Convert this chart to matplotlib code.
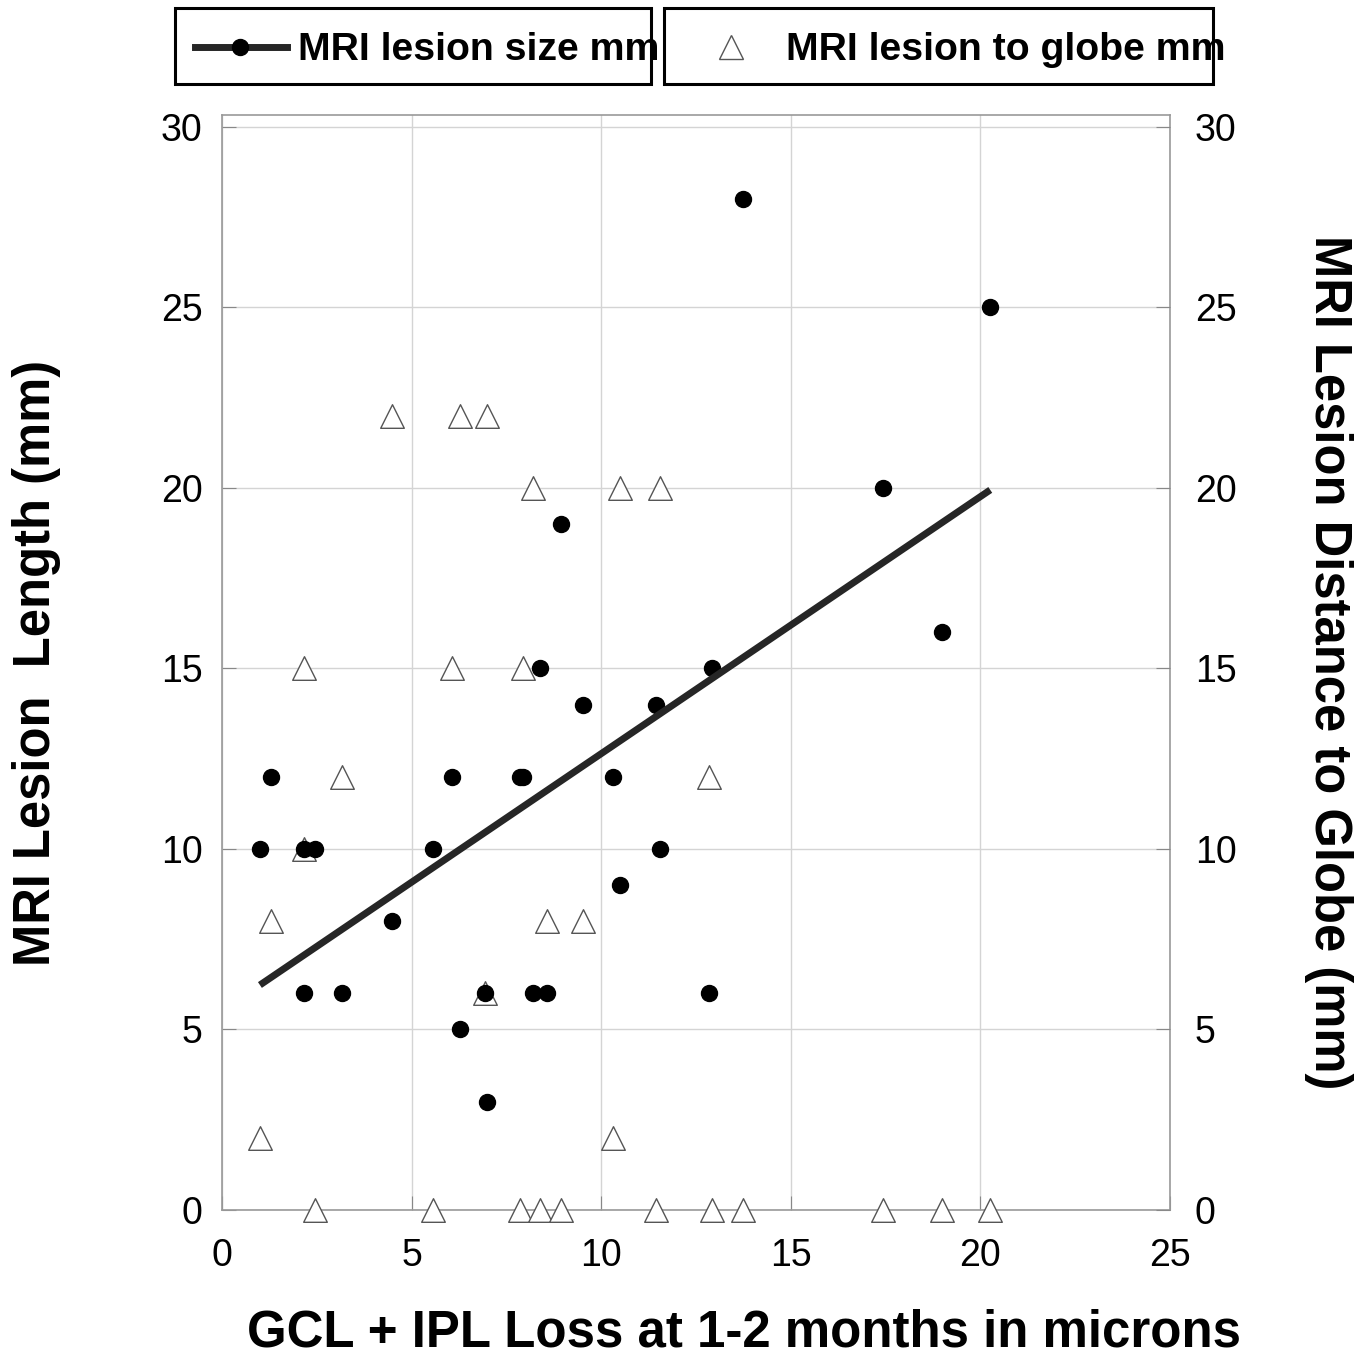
import matplotlib
matplotlib.use("Agg")
import matplotlib.pyplot as plt
import numpy as np
from matplotlib.patches import Rectangle
from matplotlib.lines import Line2D

plt.rcParams['font.family'] = ['Liberation Sans', 'DejaVu Sans']

# Data
gcl_ipl_loss = [1.0, 1.3, 2.16, 2.16, 2.45, 3.17, 4.49, 5.57, 6.07, 6.28, 6.94, 7.0,
                7.86, 7.94, 8.2, 8.39, 8.58, 8.94, 9.53, 10.3, 10.5, 11.45, 11.56,
                12.85, 12.93, 13.75, 17.44, 19.0, 20.26]
lesion_size = [10, 12, 10, 6, 10, 6, 8, 10, 12, 5, 6, 3,
               12, 12, 6, 15, 6, 19, 14, 12, 9, 14, 10,
               6, 15, 28, 20, 16, 25]
lesion_to_globe = [2, 8, 10, 15, 0, 12, 22, 0, 15, 22, 6, 22,
                   0, 15, 20, 0, 8, 0, 8, 2, 20, 0, 20,
                   12, 0, 0, 0, 0, 0]
fit_slope = 0.712
fit_intercept = 5.52

x_ticks = [0, 5, 10, 15, 20, 25]
y_ticks = [0, 5, 10, 15, 20, 25, 30]

W, H = 1371, 1355
fig = plt.figure(figsize=(W / 100, H / 100), dpi=100)
ax = fig.add_axes([222 / W, 1 - 1210 / H, (1170 - 222) / W, (1210 - 115) / H])

ax.set_xlim(0, 25)
ax.set_ylim(0, 30.33)
ax.grid(True, color='#d4d4d4', lw=1.0)
ax.set_axisbelow(True)

xs = np.array(gcl_ipl_loss)
ax.scatter(xs, lesion_to_globe, marker='^', s=17 ** 2, facecolors='white',
           edgecolors='#555555', linewidths=1.0, zorder=3, clip_on=False)
ax.scatter(xs, lesion_size, marker='o', s=11.5 ** 2, color='black', zorder=4, clip_on=False)
xl = np.array([min(gcl_ipl_loss), max(gcl_ipl_loss)])
ax.plot(xl, fit_intercept + fit_slope * xl, color='#262626', lw=5, solid_capstyle='butt', zorder=5)

ax.set_xticks(x_ticks)
ax.set_yticks(y_ticks)
ax.tick_params(axis='both', direction='in', length=10, color='#888888', labelsize=27)
ax.tick_params(axis='x', pad=20)
ax.tick_params(axis='y', right=True, pad=14)
for sp in ax.spines.values():
    sp.set_color('#999999')
    sp.set_linewidth(1.2)

ax2 = ax.twinx()
ax2.set_ylim(0, 30.33)
ax2.set_yticks(y_ticks)
ax2.tick_params(axis='y', direction='in', length=10, color='#888888', labelsize=27, pad=18)
for sp in ax2.spines.values():
    sp.set_visible(False)

ax.set_xlabel('GCL + IPL Loss at 1-2 months in microns', fontsize=36.7, fontweight='bold', labelpad=25)
ax.xaxis.label.set_x((744 - 222) / (1170 - 222))
ax.set_ylabel('MRI Lesion  Length (mm)', fontsize=36.5, fontweight='bold', labelpad=72)
ax2.set_ylabel('MRI Lesion Distance to Globe (mm)', fontsize=36.5, fontweight='bold',
               rotation=270, labelpad=84)

# Legend boxes
for (x0, x1) in [(175, 651), (664, 1213)]:
    fig.add_artist(Rectangle((x0 / W, 1 - 84 / H), (x1 - x0) / W, 76 / H,
                             transform=fig.transFigure, fill=False, edgecolor='black', lw=2.2))
ly = 1 - 47 / H
fig.add_artist(Line2D([195 / W, 287 / W], [ly, ly], transform=fig.transFigure,
                      color='#262626', lw=5))
fig.add_artist(Line2D([240 / W], [ly], transform=fig.transFigure, marker='o',
                      markersize=11.5, color='black', lw=0))
fig.add_artist(Line2D([731 / W], [ly], transform=fig.transFigure, marker='^',
                      markersize=17, markerfacecolor='white', markeredgecolor='#555555',
                      markeredgewidth=1.0, lw=0))
fig.text(298 / W, 1 - 50 / H, 'MRI lesion size mm', fontsize=28.3, fontweight='bold', va='center', ha='left')
fig.text(786 / W, 1 - 50 / H, 'MRI lesion to globe mm', fontsize=28.3, fontweight='bold', va='center', ha='left')

fig.savefig('out.png', dpi=100)
